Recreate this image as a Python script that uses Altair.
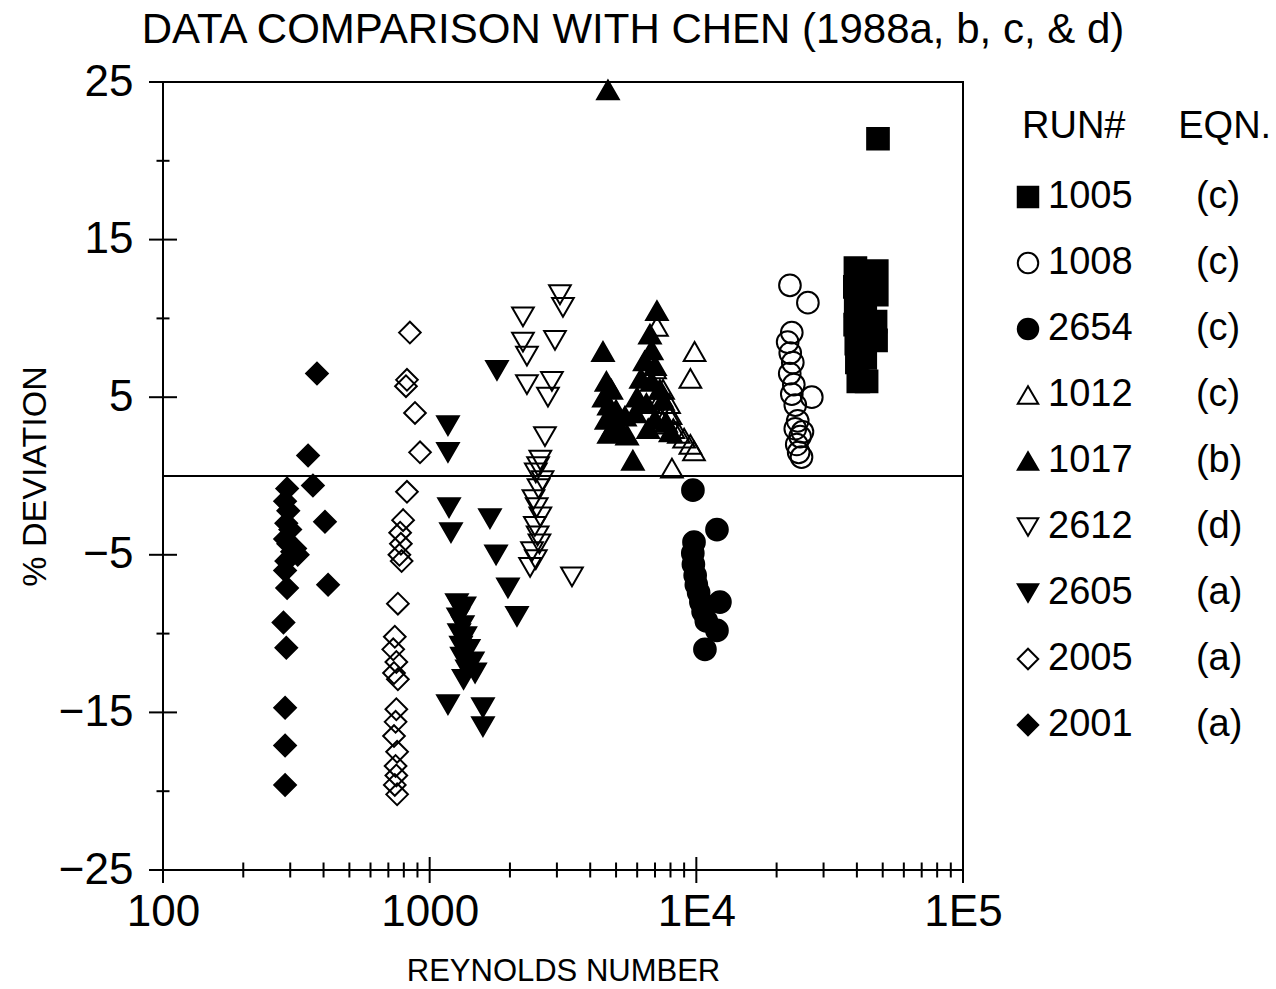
import altair as alt
import pandas as pd

# ---------------- data ----------------
runs = ["1005", "1008", "2654", "1012", "1017", "2612", "2605", "2005", "2001"]
eqns = ["(c)", "(c)", "(c)", "(c)", "(b)", "(d)", "(a)", "(a)", "(a)"]
shapes = ["square", "circle", "circle", "triangle-up", "triangle-up",
          "triangle-down", "triangle-down", "diamond", "diamond"]
fills = ["black", "transparent", "black", "transparent", "black",
         "transparent", "black", "transparent", "black"]

re_1005 = [39500, 39300, 39600, 39400, 39800, 40000, 40500, 43500, 43000, 42800,
           43000, 42500, 47500, 47500, 47000, 47200, 48000]
dev_1005 = [13.2, 12.0, 10.8, 9.6, 8.4, 7.2, 6.0, 6.0, 7.5, 9.0,
            10.5, 12.0, 13.0, 11.5, 9.8, 8.6, 21.4]

re_1008 = [22440, 26200, 22800, 22000, 22500, 23000, 22400, 23200, 22800, 23500,
           24000, 23500, 24500, 23800, 24200, 25000, 24800, 27100]
dev_1008 = [12.1, 11.0, 9.1, 8.5, 7.8, 7.2, 6.5, 5.8, 5.2, 4.5,
            3.5, 3.0, 2.5, 2.0, 1.5, 2.8, 1.2, 5.0]

re_2654 = [9710, 11950, 9800, 9700, 9750, 9900, 10000, 10200, 10400, 10600,
           10900, 12260, 11950, 10770]
dev_2654 = [-0.9, -3.4, -4.2, -4.9, -5.6, -6.3, -6.9, -7.4, -8.0, -8.6,
            -9.2, -8.0, -9.8, -11.0]

re_1012 = [7117, 9850, 9500, 7300, 7700, 8200, 8600, 9000, 9500, 9800,
           8000, 7900, 7500, 8100, 7000, 7400, 7800]
dev_1012 = [9.5, 7.9, 6.2, 3.7, 3.3, 3.0, 2.7, 2.4, 2.0, 1.6,
            3.9, 4.6, 5.5, 0.5, 6.8, 5.0, 4.0]

re_1017 = [4662, 4466, 4600, 4800, 4500, 4700, 5000, 4600, 4900, 5200,
           5500, 4700, 5400, 5781, 7117, 6700, 6800, 6400, 7000, 6200,
           6800, 7300, 6000, 6500, 7500, 5900, 7000, 7700, 8000, 6600]
dev_1017 = [24.5, 7.9, 6.0, 5.5, 5.0, 4.5, 4.2, 3.6, 3.2, 3.0,
            2.6, 2.7, 3.8, 1.0, 10.5, 9.0, 8.0, 7.3, 7.0, 6.2,
            6.0, 5.5, 5.0, 4.6, 4.8, 4.0, 3.6, 3.4, 2.8, 3.0]

re_2612 = [2238, 3080, 3161, 2238, 2951, 2316, 2316, 2874, 2777, 2706,
           2600, 2550, 2500, 2650, 2560, 2450, 2520, 2600, 2480, 2540,
           2580, 2420, 2500, 2380, 3417]
dev_2612 = [10.1, 11.5, 10.7, 8.5, 8.6, 7.6, 5.8, 6.0, 5.0, 2.5,
            1.0, 0.6, 0.2, -0.3, -0.8, -1.5, -2.0, -2.6, -3.2, -3.8,
            -4.3, -4.8, -5.3, -5.8, -6.4]

re_2605 = [1171, 1171, 1182, 1202, 1683, 1788, 1774, 1966, 2125, 1265,
           1300, 1350, 1280, 1330, 1290, 1360, 1310, 1400, 1320, 1450,
           1380, 1480, 1340, 1171, 1584, 1584]
dev_2605 = [3.2, 1.5, -2.0, -3.6, -2.7, 6.7, -5.0, -7.1, -8.9, -8.1,
            -8.4, -8.3, -9.0, -9.5, -10.0, -10.2, -10.8, -11.0, -11.5, -11.8,
            -12.3, -12.5, -12.9, -14.5, -14.7, -15.9]

re_2005 = [843, 822, 815, 881, 920, 822, 795, 775, 780, 770,
           785, 760, 740, 730, 750, 735, 760, 750, 745, 735,
           755, 745, 750, 740, 755]
dev_2005 = [9.1, 6.1, 5.7, 4.0, 1.5, -1.0, -2.8, -3.6, -4.3, -5.0,
            -5.4, -8.1, -10.2, -11.0, -11.8, -12.5, -12.9, -14.8, -15.6, -16.5,
            -17.5, -18.4, -19.0, -19.6, -20.2]

re_2001 = [378, 350, 365, 405, 416, 292, 287, 295, 290, 300,
           287, 295, 305, 290, 313, 320, 287, 292, 283, 290,
           287, 287, 287]
dev_2001 = [6.5, 1.3, -0.6, -2.9, -6.9, -0.8, -1.6, -2.2, -3.0, -3.4,
            -4.0, -4.3, -4.8, -5.4, -4.6, -5.0, -6.0, -7.1, -9.3, -10.9,
            -14.7, -17.1, -19.6]

series = {
    "1005": (re_1005, dev_1005), "1008": (re_1008, dev_1008),
    "2654": (re_2654, dev_2654), "1012": (re_1012, dev_1012),
    "1017": (re_1017, dev_1017), "2612": (re_2612, dev_2612),
    "2605": (re_2605, dev_2605), "2005": (re_2005, dev_2005),
    "2001": (re_2001, dev_2001),
}

x_tick_values = [100, 1000, 10000, 100000]
x_tick_labels = ["100", "1000", "1E4", "1E5"]
x_minor_values = [m * 10 ** e for e in (2, 3, 4) for m in range(2, 10)]
y_tick_values = [25, 15, 5, -5, -15, -25]
y_minor_values = [20, 10, -10, -20]

NB = "\u00a0"
labels = [r + NB * 6 + e for r, e in zip(runs, eqns)]
rows = []
for run, lab in zip(runs, labels):
    res, devs = series[run]
    for r, d in zip(res, devs):
        rows.append({"re": r, "dev": d, "run": lab})
df = pd.DataFrame(rows)

# ---------------- styling ----------------
FONT = "Liberation Sans"
label_expr = " : ".join(
    f"datum.value == {v} ? '{l}'" for v, l in zip(x_tick_values[:-1], x_tick_labels[:-1])
) + f" : '{x_tick_labels[-1]}'"

xscale = alt.Scale(type="log", domain=[100, 100000], nice=False)
yscale = alt.Scale(domain=[-25, 25], nice=False, zero=False)
xaxis = alt.Axis(values=x_tick_values, labelExpr=label_expr, ticks=False, domain=False,
                 grid=False, labelFontSize=44, labelPadding=20, labelFont=FONT,
                 labelColor="black", titleFont=FONT, titleFontSize=31,
                 titleFontWeight="normal", titleColor="black", titlePadding=22,
                 labelFlush=False)
yaxis = alt.Axis(values=y_tick_values, ticks=False, domain=False, grid=False,
                 labelFontSize=44, labelPadding=30, labelFont=FONT, labelColor="black",
                 titleFont=FONT, titleFontSize=34, titleFontWeight="normal",
                 titleColor="black", titlePadding=6, labelFlush=False)
XT = "REYNOLDS NUMBER"
YT = "% DEVIATION"

legend = alt.Legend(title="RUN#" + NB * 5 + "EQN.", orient="none", legendX=859,
                    legendY=26, padding=0, titleFont=FONT, titleFontSize=38,
                    titleFontWeight="normal", titleColor="black", titlePadding=32,
                    titleLimit=600, labelFont=FONT, labelFontSize=38,
                    labelColor="black", labelLimit=600, labelOffset=1, rowPadding=28,
                    symbolSize=420, symbolStrokeColor="black", symbolStrokeWidth=2,
                    symbolOpacity=1, symbolOffset=-13)

points = alt.Chart(df).mark_point(opacity=1, filled=False, strokeWidth=2,
                                  size=470).encode(
    x=alt.X("re:Q", scale=xscale, axis=xaxis, title=XT),
    y=alt.Y("dev:Q", scale=yscale, axis=yaxis, title=YT),
    shape=alt.Shape("run:N", scale=alt.Scale(domain=labels, range=shapes), legend=legend),
    fill=alt.Fill("run:N", scale=alt.Scale(domain=labels, range=fills), legend=legend),
    stroke=alt.Stroke("run:N", scale=alt.Scale(domain=labels, range=["black"] * len(labels)),
                      legend=legend),
)

zero = alt.Chart(df).mark_rule(color="black", strokeWidth=2).encode(
    y=alt.YDatum(0, type="quantitative", scale=yscale, axis=yaxis, title=YT)
)

xmaj = alt.Chart(pd.DataFrame({"re": x_tick_values})).mark_tick(
    orient="vertical", size=26, thickness=2, color="black", opacity=1).encode(
    x=alt.X("re:Q", scale=xscale, axis=xaxis, title=XT),
    y=alt.YDatum(-25, type="quantitative", scale=yscale, axis=yaxis, title=YT),
)
xmin = alt.Chart(pd.DataFrame({"re": x_minor_values})).mark_tick(
    orient="vertical", size=15, thickness=2, color="black", opacity=1).encode(
    x=alt.X("re:Q", scale=xscale, axis=xaxis, title=XT),
    y=alt.YDatum(-25, type="quantitative", scale=yscale, axis=yaxis, title=YT),
)
ymaj = alt.Chart(pd.DataFrame({"dev": y_tick_values})).mark_tick(
    orient="horizontal", size=28, thickness=2, color="black", opacity=1).encode(
    y=alt.Y("dev:Q", scale=yscale, axis=yaxis, title=YT),
    x=alt.XDatum(100, type="quantitative", scale=xscale, axis=xaxis, title=XT),
)
ymin = alt.Chart(pd.DataFrame({"dev": y_minor_values})).mark_tick(
    orient="horizontal", size=13, thickness=2, color="black", opacity=1).encode(
    y=alt.Y("dev:Q", scale=yscale, axis=yaxis, title=YT),
    x=alt.XDatum(100, type="quantitative", scale=xscale, axis=xaxis, title=XT),
)

chart = alt.layer(zero, xmaj, xmin, ymaj, ymin, points).properties(
    width=800, height=788,
    title=alt.TitleParams("DATA COMPARISON WITH CHEN (1988a, b, c, & d)", font=FONT,
                          fontSize=42, fontWeight="normal", color="black",
                          anchor="middle", dx=70, offset=8),
    autosize=alt.AutoSizeParams(type="none"),
    padding={"left": 163, "top": 82, "right": 313, "bottom": 119},
    background="white",
).configure_view(stroke="black", strokeWidth=2)

chart.save("out.html", embed_options={"renderer": "svg", "actions": False})
